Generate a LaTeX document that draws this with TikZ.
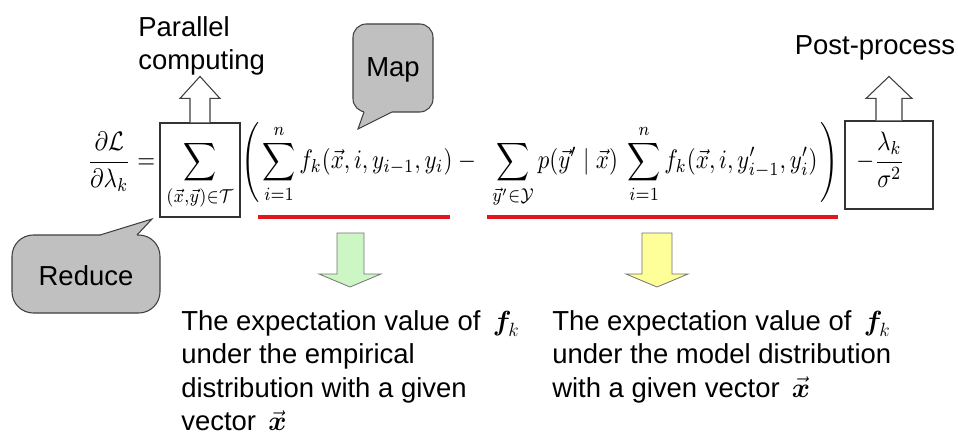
\documentclass[tikz,border=0pt]{standalone}
\usepackage{amsmath,amssymb}
\usepackage{fontspec}
\newfontfamily\arial{Liberation Sans}
\definecolor{calloutgray}{HTML}{C0C0C0}
\definecolor{calloutedge}{HTML}{404040}
\definecolor{ulred}{HTML}{E3141C}
\definecolor{greenfill}{HTML}{CCF7C4}
\definecolor{yellowfill}{HTML}{FFFF99}
\newcommand{\tallstrut}{\rule[-13.5pt]{0pt}{32pt}}
\begin{document}
\begin{tikzpicture}[x=0.75pt,y=-0.75pt,
  lbl/.style={font=\arial\fontsize{20.6}{25.1}\selectfont, inner sep=0pt, align=left},
  eq/.style={inner sep=0pt, xscale=1.72, yscale=2.0},
  framebox/.style={draw=black!80, line width=0.8pt, inner sep=0pt},
  blockarrow/.style={draw=black!75, line width=0.8pt, fill=white, line join=miter},
  callout/.style={draw=calloutedge, line width=0.8pt, fill=calloutgray},
  calloutline/.style={draw=calloutedge, line width=0.8pt, line join=miter},
  underline/.style={draw=ulred, line width=3pt},
  downarrow/.style={draw=black!55, line width=0.6pt, line join=miter}]
\fill[white] (0,0) rectangle (958,435);
\useasboundingbox (0,0) rectangle (958,435);

% boxes
\node[framebox, minimum width=60pt, minimum height=70.5pt] (sumbox) at (200,170) {};
\node[framebox, minimum width=66pt, minimum height=66pt] (postbox) at (889,165) {};

% equation pieces
\node[eq, anchor=base west] (lhs) at (87,169) {$\displaystyle\frac{\partial\mathcal{L}}{\partial\lambda_k}=$};
\node[eq, anchor=base] (sumT) at (200,169) {$\displaystyle\sum_{(\vec{x},\vec{y})\in\mathcal{T}}$};
\node[eq, anchor=base west] (parta) at (241,169) {$\displaystyle\left(\tallstrut\right.\!\sum_{i=1}^{n} f_k(\vec{x},i,y_{i-1},y_i)$};
\node[eq, anchor=base] (minus) at (467,169) {$-$};
\node[eq, anchor=base] (partb) at (555,169) {$\displaystyle\sum_{\vec{y}'\in\mathcal{Y}} p(\vec{y}'\mid\vec{x})$};
\node[eq, anchor=base east] (partc) at (839,169) {$\displaystyle\sum_{i=1}^{n} f_k(\vec{x},i,y'_{i-1},y'_i)\!\left.\tallstrut\right)$};
\node[eq, anchor=base west] (reg) at (856,169) {$\displaystyle-\frac{\lambda_k}{\sigma^2}$};

% block arrows up
\draw[blockarrow] (sumbox.north) ++(-10,0) -- ++(0,-24) -- ++(-10,0) -- ++(20,-22) -- ++(20,22) -- ++(-10,0) -- ++(0,24);
\draw[blockarrow] (postbox.north) ++(-13,0) -- ++(0,-22) -- ++(-10,0) -- ++(23,-22) -- ++(23,22) -- ++(-10,0) -- ++(0,22);

% labels above
\node[lbl, anchor=north west] (par) at (138,16) {Parallel\\computing};
\node[lbl, anchor=base] (post) at (875,55) {Post-process};

% Map callout
\draw[callout, rounded corners=10] (353,24) rectangle (433,112);
\fill[calloutgray] (364,112) -- (358,129) -- (392,112) -- (392,108) -- (364,108) -- cycle;
\draw[calloutline] (364,112) -- (358,129) -- (392,112);
\node[lbl] (map) at (393,70) {Map};

% Reduce callout
\draw[callout, rounded corners=16] (12,235) rectangle (160,313);
\fill[calloutgray] (100,235) -- (152,219) -- (137,235) -- (137,240) -- (100,240) -- cycle;
\draw[calloutline] (100,235) -- (152,219) -- (137,235);
\node[lbl] (red) at (86,276) {Reduce};

% underlines
\coordinate (u1a) at (258,217); \coordinate (u1b) at (450,217);
\coordinate (u2a) at (487,217); \coordinate (u2b) at (838,217);
\draw[underline] (u1a) -- (u1b);
\draw[underline] (u2a) -- (u2b);

% down arrows
\draw[downarrow, fill=greenfill] (337,233) -- (364,233) -- (364,274) -- (381,274) -- (350,287) -- (319,274) -- (337,274) -- cycle;
\draw[downarrow, fill=yellowfill] (642,233) -- (672,233) -- (672,274) -- (688,274) -- (657,287) -- (626,274) -- (642,274) -- cycle;

% explanations
\node[lbl, anchor=north west] (emp) at (181,310) {The expectation value of~\,$\boldsymbol{f}_{\!k}$\\under the empirical\\distribution with a given\\vector~\,$\vec{\boldsymbol{x}}$};
\node[lbl, anchor=north west] (mod) at (552,310) {The expectation value of~\,$\boldsymbol{f}_{\!k}$\\under the model distribution\\with a given vector~\,$\vec{\boldsymbol{x}}$};
\end{tikzpicture}
\end{document}
